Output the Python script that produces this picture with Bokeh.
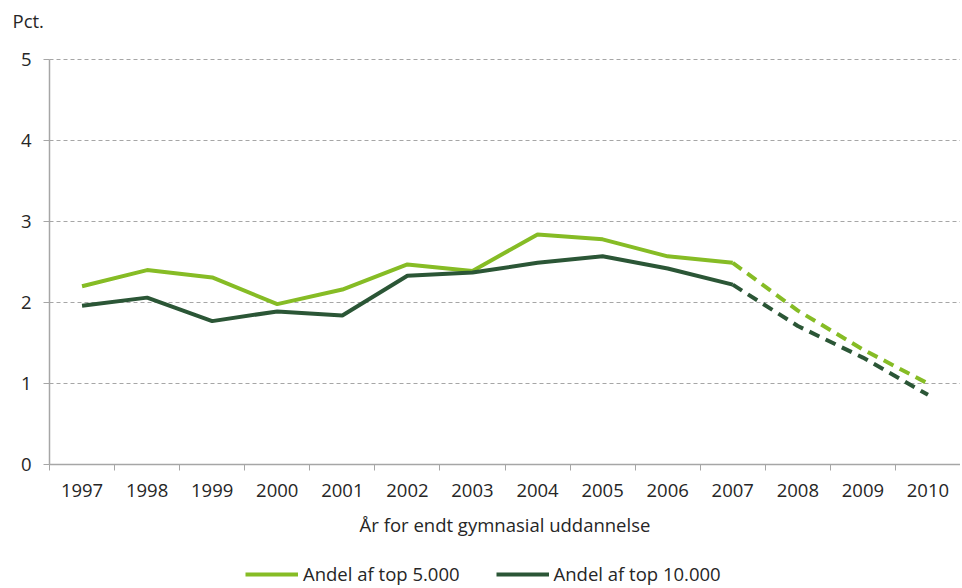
from bokeh.plotting import figure
from bokeh.models import Range1d, FixedTicker, Legend, LegendItem, Label
from bokeh.embed import file_html
from bokeh.resources import INLINE

years = [1997, 1998, 1999, 2000, 2001, 2002, 2003, 2004, 2005, 2006, 2007, 2008, 2009, 2010]
top5000 = [2.20, 2.40, 2.31, 1.98, 2.16, 2.47, 2.39, 2.84, 2.78, 2.57, 2.49, 1.90, 1.42, 1.00]
top10000 = [1.96, 2.06, 1.77, 1.89, 1.84, 2.33, 2.37, 2.49, 2.57, 2.42, 2.22, 1.71, 1.32, 0.86]
split_year = 2007
y_ticks = [0, 1, 2, 3, 4, 5]
x_title = "År for endt gymnasial uddannelse"
y_title = "Pct."
names = ["Andel af top 5.000", "Andel af top 10.000"]

LIGHT = "#86bc25"
DARK = "#2b5636"
FONT = "Open Sans"
FS = "18.5px"
TXT = "#262626"
GRID = "#a6a6a6"

# layout in pixels (the frame fills the whole canvas; axes are pinned inside it)
W, H = 960, 586
LEFT, TOP, ZERO_PX = 49, 59, 464
x_lo, x_hi = years[0] - 0.5, years[-1] + 0.5
PXX = (W - LEFT) / (x_hi - x_lo)
PXY = (ZERO_PX - TOP) / y_ticks[-1]

p = figure(width=W, height=H, output_backend="svg", toolbar_location=None,
           x_range=Range1d(x_lo - LEFT / PXX, x_hi),
           y_range=Range1d(-(H - ZERO_PX) / PXY, y_ticks[-1] + TOP / PXY),
           min_border=0)
p.outline_line_color = None
p.background_fill_color = "white"
p.border_fill_color = "white"

k = years.index(split_year)
r1 = p.line(years[:k + 1], top5000[:k + 1], line_color=LIGHT, line_width=4)
r2 = p.line(years[:k + 1], top10000[:k + 1], line_color=DARK, line_width=4)
p.line(years[k:], top5000[k:], line_color=LIGHT, line_width=4, line_dash="11 7")
p.line(years[k:], top10000[k:], line_color=DARK, line_width=4, line_dash="11 7")

# x axis, pinned at y = 0
p.xaxis.fixed_location = 0
p.xaxis.bounds = (x_lo, x_hi)
p.xaxis.ticker = FixedTicker(ticks=years, minor_ticks=[y - 0.5 for y in years] + [x_hi])
p.xaxis.major_tick_line_color = None
p.xaxis.minor_tick_line_color = GRID
p.xaxis.minor_tick_out = 6
p.xaxis.minor_tick_in = 0
p.xaxis.axis_line_color = GRID
p.xaxis.axis_line_width = 1.5
p.xaxis.major_label_text_font = FONT
p.xaxis.major_label_text_font_size = FS
p.xaxis.major_label_text_color = TXT
p.xaxis.major_label_standoff = 13
p.xaxis.axis_label = x_title
p.xaxis.axis_label_text_font = FONT
p.xaxis.axis_label_text_font_size = FS
p.xaxis.axis_label_text_font_style = "normal"
p.xaxis.axis_label_text_color = TXT
p.xaxis.axis_label_standoff = 12
p.xgrid.grid_line_color = None

# y axis, pinned at the left edge of the first category
p.yaxis.fixed_location = x_lo
p.yaxis.bounds = (y_ticks[0], y_ticks[-1])
p.yaxis.ticker = FixedTicker(ticks=y_ticks)
p.yaxis.axis_line_color = GRID
p.yaxis.axis_line_width = 1.5
p.yaxis.major_tick_line_color = GRID
p.yaxis.major_tick_out = 6
p.yaxis.major_tick_in = 0
p.yaxis.minor_tick_line_color = None
p.yaxis.major_label_text_font = FONT
p.yaxis.major_label_text_font_size = FS
p.yaxis.major_label_text_color = TXT
p.yaxis.major_label_standoff = 12
p.ygrid.grid_line_color = GRID
p.ygrid.grid_line_dash = "4 3"
p.ygrid.grid_line_width = 1.2
p.ygrid.cross_bounds = (x_lo, x_hi)

p.add_layout(Label(x=x_lo - (LEFT - 12) / PXX, y=y_ticks[-1] + (TOP - 20) / PXY, text=y_title,
                   text_font=FONT, text_font_size=FS, text_color=TXT,
                   text_baseline="middle", text_align="left"))

legend = Legend(items=[LegendItem(label=names[0], renderers=[r1]),
                       LegendItem(label=names[1], renderers=[r2])],
                orientation="horizontal", location=(245, 0),
                label_text_font=FONT, label_text_font_size=FS, label_text_color=TXT,
                glyph_width=53, glyph_height=18, spacing=36, label_standoff=5,
                border_line_color=None, background_fill_alpha=0, margin=0, padding=0)
p.add_layout(legend, "center")

open("out.html", "w").write(file_html(p, INLINE))
